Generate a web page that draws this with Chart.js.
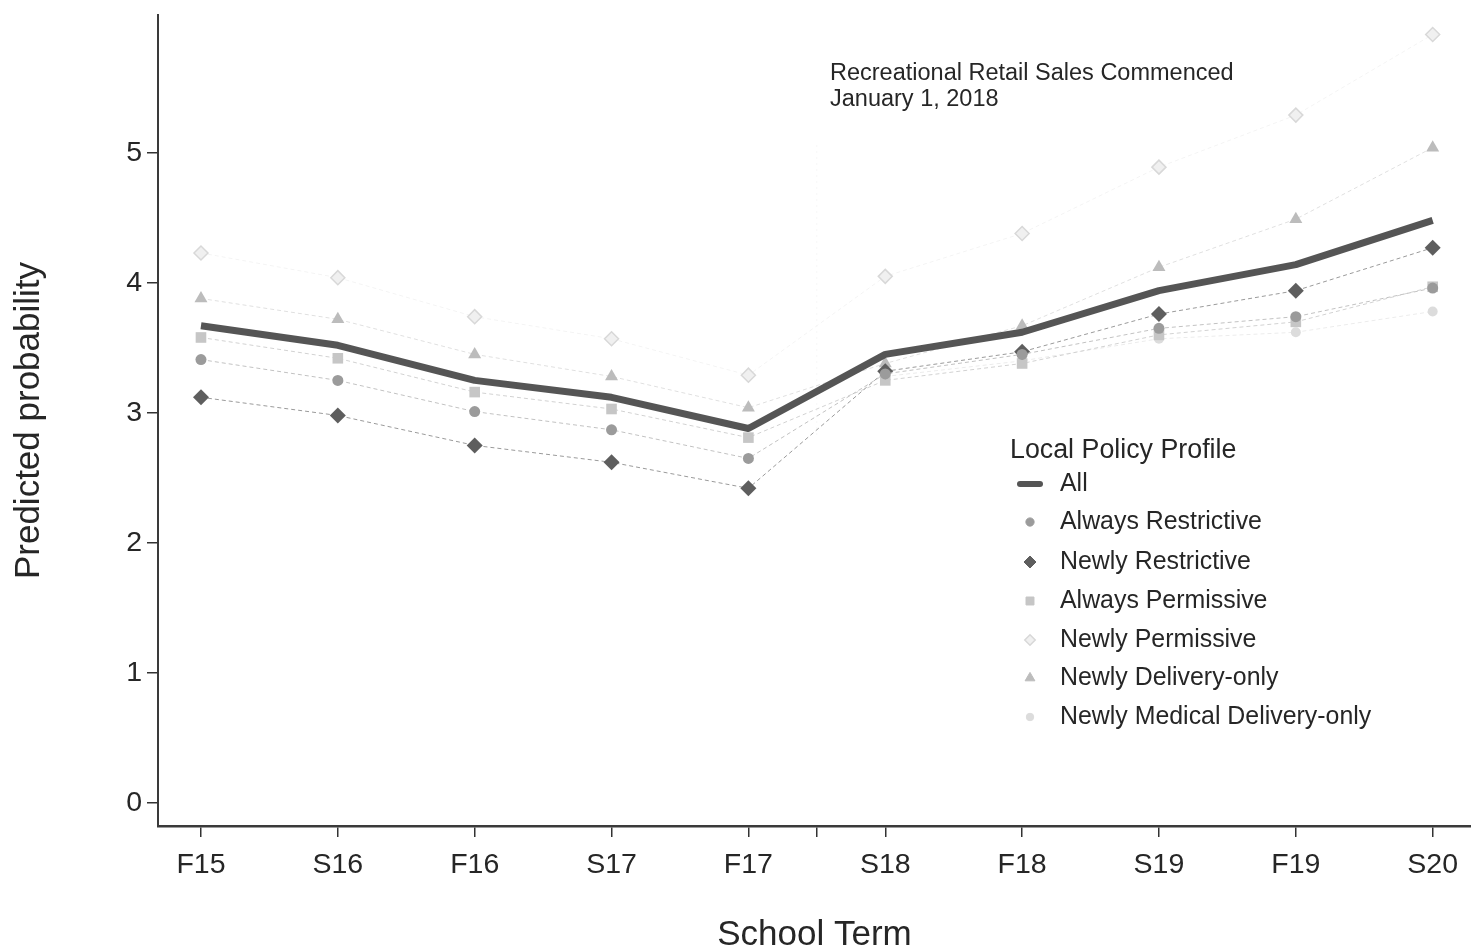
<!DOCTYPE html>
<html>
<head>
<meta charset="utf-8">
<script src="https://cdn.jsdelivr.net/npm/chart.js@4/dist/chart.umd.min.js"></script>
<style>
  html, body { margin: 0; padding: 0; background: #fff; }
  #wrap { width: 1471px; height: 948px; }
</style>
</head>
<body>
<div id="wrap"><canvas id="c" width="1471" height="948"></canvas></div>
<script>
// School terms along the x axis (1 = F15 ... 10 = S20)
const terms = ['F15', 'S16', 'F16', 'S17', 'F17', 'S18', 'F18', 'S19', 'F19', 'S20'];
const yTickValues = [0, 1, 2, 3, 4, 5];

// Predicted probability by local policy profile
const allProfiles        = [3.67, 3.52, 3.25, 3.12, 2.88, 3.45, 3.62, 3.94, 4.14, 4.48];
const alwaysRestrictive  = [3.41, 3.25, 3.01, 2.87, 2.65, 3.30, 3.45, 3.65, 3.74, 3.96];
const newlyRestrictive   = [3.12, 2.98, 2.75, 2.62, 2.42, 3.32, 3.47, 3.76, 3.94, 4.27];
const alwaysPermissive   = [3.58, 3.42, 3.16, 3.03, 2.81, 3.25, 3.38, 3.60, 3.70, 3.97];
const newlyPermissive    = [4.23, 4.04, 3.74, 3.57, 3.29, 4.05, 4.38, 4.89, 5.29, 5.91];
const newlyDelivery      = [3.88, 3.72, 3.45, 3.28, 3.04, 3.38, 3.67, 4.12, 4.49, 5.04];
const newlyMedDelivery   = [null, null, null, null, null, 3.28, 3.40, 3.57, 3.62, 3.78];

// Position of the January 1, 2018 marker on the term axis
const retailStart = 5.5;

const FONT = "'Liberation Sans', Arial, sans-serif";
const TEXT = '#262626';

const toPoints = arr => arr.map((v, i) => ({ x: i + 1, y: v }));

function profile(label, values, style) {
  return Object.assign({
    label,
    data: toPoints(values),
    borderWidth: 1,
    borderDash: [4, 3],
    pointBorderWidth: 0,
    fill: false,
    tension: 0,
    spanGaps: false
  }, style);
}

const datasets = [
  profile('All', allProfiles, {
    borderColor: '#555555', borderWidth: 7, borderDash: [], pointRadius: 0,
    borderCapStyle: 'butt', borderJoinStyle: 'round', legendShape: 'line'
  }),
  profile('Always Restrictive', alwaysRestrictive, {
    borderColor: '#c2c2c2', pointStyle: 'circle', pointRadius: 5.5,
    pointBackgroundColor: '#9b9b9b', pointBorderColor: '#9b9b9b', legendShape: 'circle'
  }),
  profile('Newly Restrictive', newlyRestrictive, {
    borderColor: '#9a9a9a', pointStyle: 'rectRot', pointRadius: 8,
    pointBackgroundColor: '#5e5e5e', pointBorderColor: '#5e5e5e', legendShape: 'rectRot'
  }),
  profile('Always Permissive', alwaysPermissive, {
    borderColor: '#d2d2d2', pointStyle: 'rect', pointRadius: 7.5,
    pointBackgroundColor: '#c6c6c6', pointBorderColor: '#c6c6c6', legendShape: 'rect'
  }),
  profile('Newly Permissive', newlyPermissive, {
    borderColor: '#f4f4f4', pointStyle: 'rectRot', pointRadius: 7,
    pointBackgroundColor: '#f0f0f0', pointBorderColor: '#d8d8d8', pointBorderWidth: 1.5,
    legendShape: 'rectRot'
  }),
  profile('Newly Delivery-only', newlyDelivery, {
    borderColor: '#e0e0e0', pointStyle: 'triangle', pointRadius: 7.5,
    pointBackgroundColor: '#bcbcbc', pointBorderColor: '#bcbcbc', legendShape: 'triangle'
  }),
  profile('Newly Medical Delivery-only', newlyMedDelivery, {
    borderColor: '#ececec', pointStyle: 'circle', pointRadius: 5,
    pointBackgroundColor: '#dcdcdc', pointBorderColor: '#dcdcdc', legendShape: 'circle'
  })
];

// Small marker painter for the in-plot legend
function drawMarker(ctx, ds, x, y) {
  ctx.save();
  if (ds.legendShape === 'line') {
    ctx.strokeStyle = ds.borderColor;
    ctx.lineWidth = 6;
    ctx.lineCap = 'round';
    ctx.beginPath();
    ctx.moveTo(x - 10, y);
    ctx.lineTo(x + 10, y);
    ctx.stroke();
    ctx.restore();
    return;
  }
  ctx.fillStyle = ds.pointBackgroundColor;
  ctx.strokeStyle = ds.pointBorderColor || ds.pointBackgroundColor;
  ctx.lineWidth = ds.pointBorderWidth || 0;
  const r = ds.pointRadius * 0.75;
  ctx.beginPath();
  switch (ds.legendShape) {
    case 'circle':
      ctx.arc(x, y, r, 0, Math.PI * 2);
      break;
    case 'rectRot':
      ctx.moveTo(x, y - r); ctx.lineTo(x + r, y); ctx.lineTo(x, y + r); ctx.lineTo(x - r, y);
      ctx.closePath();
      break;
    case 'rect': {
      const s = r * Math.SQRT1_2;
      ctx.rect(x - s, y - s, 2 * s, 2 * s);
      break;
    }
    case 'triangle':
      ctx.moveTo(x, y - r); ctx.lineTo(x + r * 0.87, y + r * 0.5); ctx.lineTo(x - r * 0.87, y + r * 0.5);
      ctx.closePath();
      break;
  }
  ctx.fill();
  if (ctx.lineWidth > 0) ctx.stroke();
  ctx.restore();
}

const overlay = {
  id: 'overlay',
  beforeDatasetsDraw(chart) {
    const { ctx, chartArea, scales } = chart;
    const x = scales.x.getPixelForValue(retailStart);
    ctx.save();
    ctx.strokeStyle = 'rgba(0,0,0,0.035)';
    ctx.lineWidth = 1;
    ctx.setLineDash([2, 4]);
    ctx.beginPath();
    ctx.moveTo(x, chartArea.top + 130);
    ctx.lineTo(x, chartArea.top + 420);
    ctx.stroke();
    ctx.restore();
  },
  afterDraw(chart) {
    const { ctx } = chart;
    ctx.save();
    ctx.fillStyle = TEXT;
    ctx.textAlign = 'left';
    ctx.textBaseline = 'alphabetic';
    ctx.font = `23.5px ${FONT}`;
    ctx.fillText('Recreational Retail Sales Commenced', 830, 80);
    ctx.fillText('January 1, 2018', 830, 106);

    ctx.font = `26.8px ${FONT}`;
    ctx.textBaseline = 'middle';
    ctx.fillText('Local Policy Profile', 1010, 451);
    ctx.font = `24.9px ${FONT}`;
    const rowY = [484, 522, 562, 601, 640, 678, 717];
    chart.data.datasets.forEach((ds, i) => {
      drawMarker(ctx, ds, 1030, rowY[i]);
      ctx.fillStyle = TEXT;
      ctx.fillText(ds.label, 1060, rowY[i]);
    });
    ctx.restore();
  }
};

new Chart(document.getElementById('c'), {
  type: 'line',
  data: { datasets },
  plugins: [overlay],
  options: {
    responsive: false,
    animation: false,
    events: [],
    layout: { autoPadding: false, padding: { left: 0, right: 0, top: 15, bottom: 0 } },
    plugins: { legend: { display: false }, tooltip: { enabled: false } },
    scales: {
      x: {
        type: 'linear',
        min: 0.686,
        max: 10.28,
        afterFit(scale) {
          scale.height = 122;
          scale.paddingLeft = 0;
          scale.paddingRight = 0;
        },
        afterBuildTicks(scale) {
          scale.ticks = [1, 2, 3, 4, 5, retailStart, 6, 7, 8, 9, 10].map(v => ({ value: v }));
        },
        ticks: {
          autoSkip: false,
          maxRotation: 0,
          minRotation: 0,
          padding: 11,
          color: TEXT,
          font: { family: FONT, size: 28.5 },
          callback: v => (Number.isInteger(v) ? terms[v - 1] : '')
        },
        grid: { display: true, drawOnChartArea: false, drawTicks: true, tickLength: 11, tickColor: '#333', lineWidth: 1.5 },
        border: { display: true, color: '#3a3a3a', width: 2.5 },
        title: {
          display: true,
          text: 'School Term',
          color: TEXT,
          font: { family: FONT, size: 35, lineHeight: 0.75 },
          padding: { top: 0, bottom: 0 }
        }
      },
      y: {
        type: 'linear',
        min: -0.177,
        max: 6.06,
        afterFit(scale) {
          scale.width = 158;
          scale.paddingTop = 0;
          scale.paddingBottom = 0;
        },
        afterBuildTicks(scale) { scale.ticks = yTickValues.map(v => ({ value: v })); },
        ticks: {
          padding: 5,
          color: TEXT,
          font: { family: FONT, size: 28.5 }
        },
        grid: { display: true, drawOnChartArea: false, drawTicks: true, tickLength: 11, tickColor: '#333', lineWidth: 1.5 },
        border: { display: true, color: '#3a3a3a', width: 2 },
        title: {
          display: true,
          text: 'Predicted probability',
          color: TEXT,
          font: { family: FONT, size: 35, lineHeight: 1 },
          padding: { top: 12, bottom: 0 }
        }
      }
    }
  }
});
</script>
</body>
</html>
